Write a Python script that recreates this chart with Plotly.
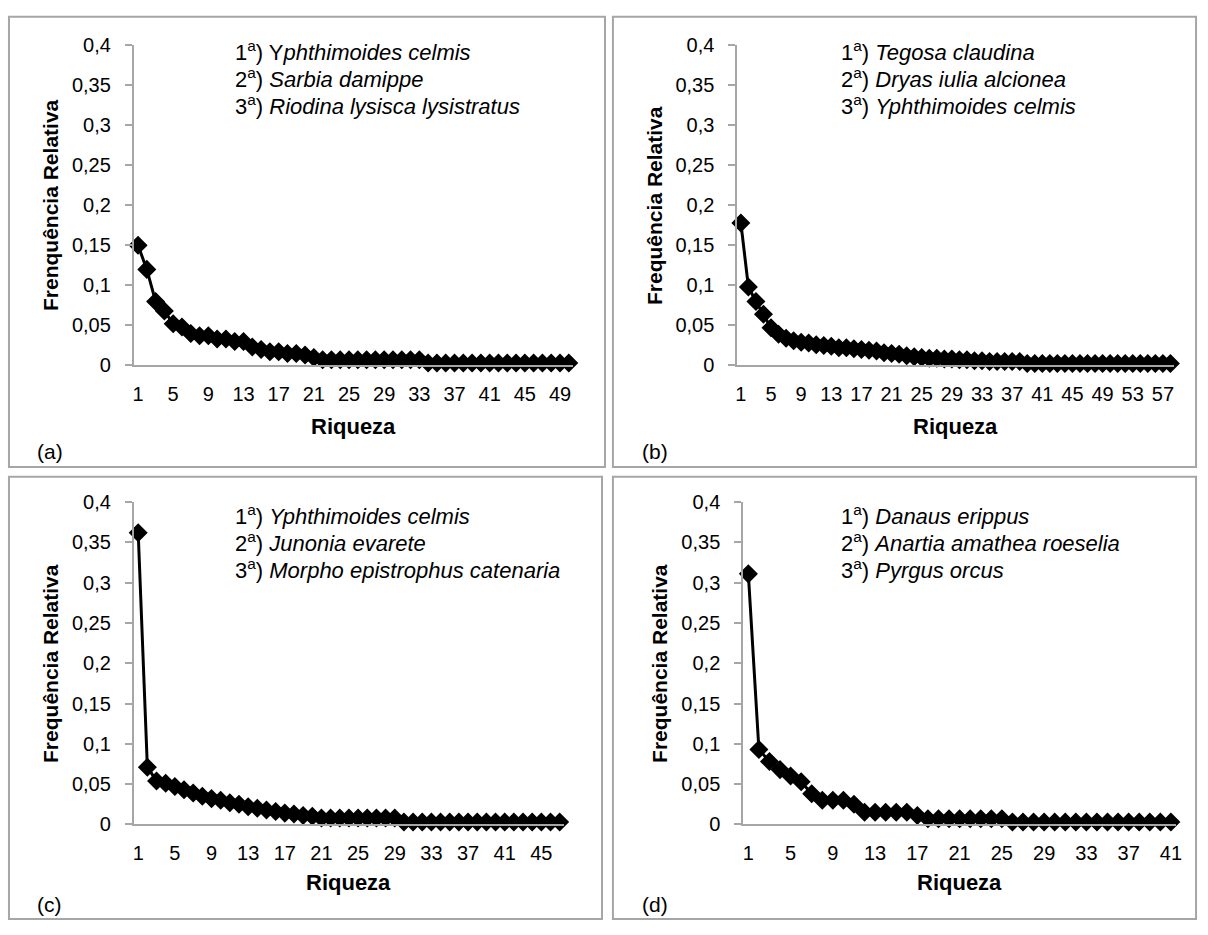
import plotly.graph_objects as go

W, H = 1208, 935

# ---------------- data ----------------
vals_a = [0.150, 0.120, 0.080, 0.068, 0.052, 0.048, 0.040, 0.037, 0.037, 0.033,
          0.033, 0.030, 0.030, 0.023, 0.020, 0.017, 0.017, 0.015, 0.015, 0.013,
          0.010, 0.007, 0.007, 0.007, 0.007, 0.007, 0.007, 0.007, 0.007, 0.007,
          0.007, 0.007, 0.007, 0.003, 0.003, 0.003, 0.003, 0.003, 0.003, 0.003,
          0.003, 0.003, 0.003, 0.003, 0.003, 0.003, 0.003, 0.003, 0.003, 0.003]
vals_b = [0.178, 0.098, 0.080, 0.064, 0.047, 0.039, 0.034, 0.031, 0.029, 0.028,
          0.026, 0.025, 0.024, 0.022, 0.022, 0.021, 0.020, 0.019, 0.018, 0.016,
          0.015, 0.014, 0.012, 0.011, 0.010, 0.009, 0.009, 0.008, 0.008, 0.007,
          0.007, 0.006, 0.006, 0.005, 0.005, 0.005, 0.005, 0.005, 0.0025, 0.0025,
          0.0025, 0.0025, 0.0025, 0.0025, 0.0025, 0.0025, 0.0025, 0.0025, 0.0025, 0.0025,
          0.0025, 0.0025, 0.0025, 0.0025, 0.0025, 0.0025, 0.0025, 0.0025]
vals_c = [0.362, 0.071, 0.054, 0.051, 0.047, 0.043, 0.039, 0.035, 0.032, 0.030,
          0.027, 0.025, 0.022, 0.020, 0.018, 0.016, 0.014, 0.013, 0.011, 0.010,
          0.008, 0.008, 0.008, 0.008, 0.008, 0.008, 0.008, 0.008, 0.008, 0.003,
          0.003, 0.003, 0.003, 0.003, 0.003, 0.003, 0.003, 0.003, 0.003, 0.003,
          0.003, 0.003, 0.003, 0.003, 0.003, 0.003, 0.003]
vals_d = [0.311, 0.093, 0.078, 0.068, 0.060, 0.053, 0.038, 0.030, 0.030, 0.030,
          0.025, 0.015, 0.015, 0.015, 0.015, 0.015, 0.011, 0.007, 0.007, 0.007,
          0.007, 0.007, 0.007, 0.007, 0.007, 0.003, 0.003, 0.003, 0.003, 0.003,
          0.003, 0.003, 0.003, 0.003, 0.003, 0.003, 0.003, 0.003, 0.003, 0.003,
          0.003]

species_a = ["1<sup>a</sup>) Y<i>phthimoides celmis</i>",
             "2<sup>a</sup>) <i>Sarbia damippe</i>",
             "3<sup>a</sup>) <i>Riodina lysisca lysistratus</i>"]
species_b = ["1<sup>a</sup>) <i>Tegosa claudina</i>",
             "2<sup>a</sup>) <i>Dryas iulia alcionea</i>",
             "3<sup>a</sup>) <i>Yphthimoides celmis</i>"]
species_c = ["1<sup>a</sup>) <i>Yphthimoides celmis</i>",
             "2<sup>a</sup>) <i>Junonia evarete</i>",
             "3<sup>a</sup>) <i>Morpho epistrophus catenaria</i>"]
species_d = ["1<sup>a</sup>) <i>Danaus erippus</i>",
             "2<sup>a</sup>) <i>Anartia amathea roeselia</i>",
             "3<sup>a</sup>) <i>Pyrgus orcus</i>"]

ytitles = ["Frenquência Relativa", "Frequência Relativa", "Frequência Relativa", "Frequência Relativa"]
xtitle = "Riqueza"
panel_labels = ["(a)", "(b)", "(c)", "(d)"]

ytick_vals = [0, 0.05, 0.1, 0.15, 0.2, 0.25, 0.3, 0.35, 0.4]
ytick_text = ["0", "0,05", "0,1", "0,15", "0,2", "0,25", "0,3", "0,35", "0,4"]

# ---------------- layout geometry (pixels) ----------------
panels = [
    dict(vals=vals_a, sp=species_a, area=(132.5, 575, 35, 363), box=(7, 6, 607, 467),
         ytx=49, xtitle_y=426, lab_xy=(48, 451), sp_xy=(233, 41)),
    dict(vals=vals_b, sp=species_b, area=(740, 1180, 35, 363), box=(615, 6, 1202, 467),
         ytx=657, xtitle_y=426, lab_xy=(657, 451), sp_xy=(843, 41)),
    dict(vals=vals_c, sp=species_c, area=(132.5, 566, 503, 833), box=(7, 477, 604, 930),
         ytx=49, xtitle_y=892, lab_xy=(48, 915), sp_xy=(233, 516)),
    dict(vals=vals_d, sp=species_d, area=(746, 1182, 503, 833), box=(615, 477, 1202, 930),
         ytx=662, xtitle_y=892, lab_xy=(657, 915), sp_xy=(843, 516)),
]

def fx(px):
    return px / W

def fy(py):
    return 1 - py / H

FONT = "Liberation Sans, Arial, sans-serif"
GRAY = "#a6a6a6"

fig = go.Figure()
layout = dict(width=W, height=H, margin=dict(l=0, r=0, t=0, b=0),
              paper_bgcolor="white", plot_bgcolor="white", showlegend=False,
              font=dict(family=FONT, color="black"))
shapes = []
annotations = []

for i, p in enumerate(panels):
    k = "" if i == 0 else str(i + 1)
    n = len(p["vals"])
    xs = list(range(1, n + 1))
    fig.add_trace(go.Scatter(
        x=xs, y=p["vals"], mode="lines+markers", xaxis="x" + k, yaxis="y" + k,
        line=dict(color="black", width=3),
        marker=dict(symbol="diamond", size=13, color="black", line=dict(color="black", width=1.5)),
        cliponaxis=False, hoverinfo="skip"))
    x0, x1, yt, yb = p["area"]
    layout["xaxis" + k] = dict(
        domain=[fx(x0), fx(x1)], anchor="y" + k, range=[0.5, n + 0.5],
        tickvals=list(range(1, n + 1, 4)), ticktext=[str(v) for v in range(1, n + 1, 4)],
        showline=True, linecolor=GRAY, linewidth=1.5, ticks="", showgrid=False,
        zeroline=False, tickfont=dict(size=20, family=FONT, color="black"), ticklabelstandoff=10)
    layout["yaxis" + k] = dict(
        domain=[fy(yb), fy(yt)], anchor="x" + k, range=[0, 0.4],
        tickvals=ytick_vals, ticktext=ytick_text,
        showline=True, linecolor=GRAY, linewidth=1.5, ticks="outside", ticklen=7,
        tickcolor=GRAY, tickwidth=1.5, showgrid=False, zeroline=False,
        tickfont=dict(size=20, family=FONT, color="black"), ticklabelstandoff=10)
    bx0, by0, bx1, by1 = p["box"]
    shapes.append(dict(type="rect", xref="paper", yref="paper",
                       x0=fx(bx0), x1=fx(bx1), y0=fy(by1), y1=fy(by0),
                       line=dict(color=GRAY, width=2), fillcolor="rgba(0,0,0,0)"))
    annotations.append(dict(text="<b>" + ytitles[i] + "</b>", xref="paper", yref="paper",
                            x=fx(p["ytx"]), y=fy((yt + yb) / 2), textangle=-90,
                            showarrow=False, font=dict(size=21, family=FONT),
                            xanchor="center", yanchor="middle"))
    annotations.append(dict(text="<b>" + xtitle + "</b>", xref="paper", yref="paper",
                            x=fx((x0 + x1) / 2), y=fy(p["xtitle_y"]), showarrow=False,
                            font=dict(size=22, family=FONT), xanchor="center", yanchor="middle"))
    lx, ly = p["lab_xy"]
    annotations.append(dict(text=panel_labels[i], xref="paper", yref="paper",
                            x=fx(lx), y=fy(ly), showarrow=False,
                            font=dict(size=21, family=FONT), xanchor="center", yanchor="middle"))
    sx, sy = p["sp_xy"]
    for j, s in enumerate(p["sp"]):
        annotations.append(dict(text=s, xref="paper", yref="paper",
                                x=fx(sx), y=fy(sy + j * 27.5), showarrow=False,
                                font=dict(size=22, family=FONT), xanchor="left", yanchor="middle"))

layout["shapes"] = shapes
layout["annotations"] = annotations
fig.update_layout(**layout)
fig.write_html("out.html", config={"displayModeBar": False},
               post_script="document.body.style.margin='0px';document.body.style.overflow='hidden';")
